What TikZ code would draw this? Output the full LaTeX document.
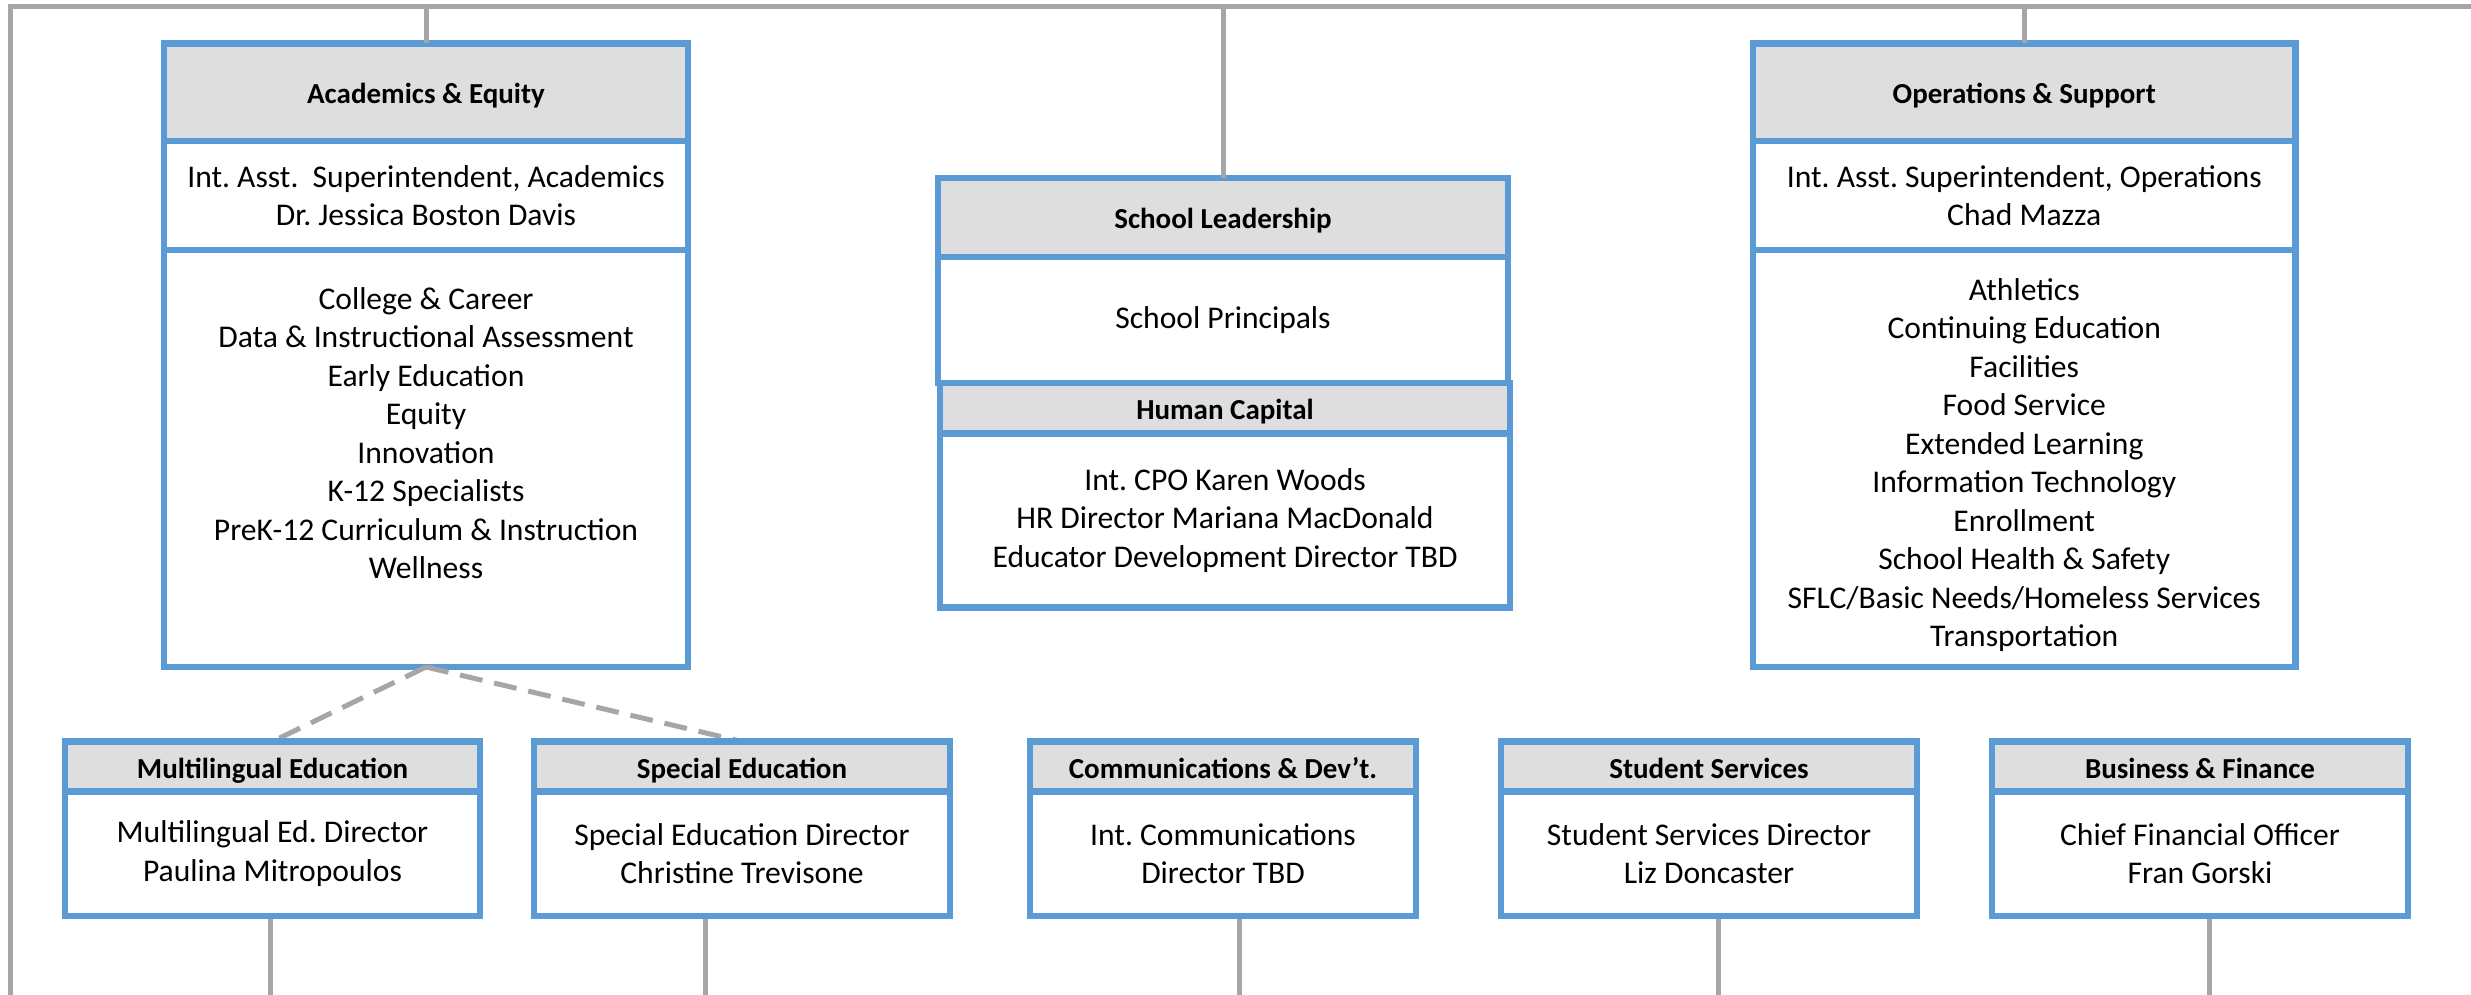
\documentclass[tikz,border=0pt]{standalone}
\usepackage{fontspec}
\setmainfont{Carlito}
\usetikzlibrary{positioning}
\definecolor{waku}{HTML}{5B9BD5}
\definecolor{midashi}{HTML}{DEDEDE}
\definecolor{sen}{HTML}{A6A6A6}
\newcommand{\hdfont}{\fontsize{29}{35}\selectfont\bfseries}
\newcommand{\bdfont}{\fontsize{31.6}{38.5}\selectfont}
\frenchspacing

\begin{document}
\begin{tikzpicture}[x=1pt,y=-1pt,
	hd/.style={draw=waku,fill=midashi,line width=6.5pt,inner sep=0pt,outer sep=0pt,anchor=north,font=\hdfont,align=center,text height=23pt,text depth=0pt},
	bd/.style={draw=waku,fill=white,line width=6.5pt,inner sep=0pt,outer sep=0pt,anchor=north,font=\bdfont,align=center},
	txt/.style={inner sep=0pt,font=\bdfont,align=center},
	link/.style={draw=sen,line width=5pt},
	dashlink/.style={draw=sen,line width=5pt,dash pattern=on 23pt off 12pt}]

		\useasboundingbox (0,0) rectangle (2471,995);

		\coordinate (topl) at (10,7); %上の線
		\coordinate (topr) at (2471,7);
		\coordinate (leftend) at (10,995);
		\draw[link] (leftend)--(topl)--(topr);

		%上の段
		\node[hd,minimum width=524pt,minimum height=97.5pt] (acadhd) at (426,43.5) {Academics \& Equity};
		\node[bd,minimum width=524pt,minimum height=109pt] (acadname) at (acadhd.south) {Int. Asst.\ \ Superintendent, Academics\\Dr. Jessica Boston Davis};
		\node[bd,minimum width=524pt,minimum height=417pt] (acadlist) at (acadname.south) {};
		\node[txt] (acadtxt) at ([yshift=25.5pt]acadlist.center) {College \& Career\\Data \& Instructional Assessment\\Early Education\\Equity\\Innovation\\K-12 Specialists\\PreK-12 Curriculum \& Instruction\\Wellness};

		\node[hd,minimum width=570pt,minimum height=79pt] (leadhd) at (1223,178) {School Leadership};
		\node[bd,minimum width=570pt,minimum height=126pt] (lead) at (leadhd.south) {School Principals};
		\node[hd,minimum width=570pt,minimum height=50.5pt] (hchd) at ([xshift=2pt]lead.south) {Human Capital};
		\node[bd,minimum width=570pt,minimum height=174pt] (hc) at (hchd.south) {Int. CPO Karen Woods\\HR Director Mariana MacDonald\\Educator Development Director TBD};

		\node[hd,minimum width=542.5pt,minimum height=97.5pt] (opshd) at (2024.25,43.5) {Operations \& Support};
		\node[bd,minimum width=542.5pt,minimum height=109pt] (opsname) at (opshd.south) {Int. Asst. Superintendent, Operations\\Chad Mazza};
		\node[bd,minimum width=542.5pt,minimum height=417pt] (opslist) at (opsname.south) {};
		\node[txt] (opstxt) at ([yshift=-6.5pt]opslist.center) {Athletics\\Continuing Education\\Facilities\\Food Service\\Extended Learning\\Information Technology\\Enrollment\\School Health \& Safety\\SFLC/Basic Needs/Homeless Services\\Transportation};

		\draw[link] (acadhd.north)--(acadhd.north |- topl);
		\draw[link] (leadhd.north)--(leadhd.north |- topl);
		\draw[link] (opshd.north)--(opshd.north |- topl);

		%下の段
		\draw[dashlink] (acadlist.south)--(272.5,741.5) coordinate (mltop);
		\draw[dashlink] (acadlist.south)--(742,741.5) coordinate (setop);

		\coordinate (mlend) at (270,995);
		\coordinate (seend) at (705,995);
		\coordinate (cdend) at (1239,995);
		\coordinate (ssend) at (1718,995);
		\coordinate (bfend) at (2209,995);
		\foreach \n in {ml,se,cd,ss,bf}
			\draw[link] (\n end)--++(0,-90);

		\node[hd,minimum width=415pt,minimum height=50pt] (mlhd) at (mltop) {Multilingual Education};
		\node[bd,minimum width=415pt,minimum height=124.5pt] (ml) at (mlhd.south) {Multilingual Ed. Director\\Paulina Mitropoulos};
		\node[hd,minimum width=416pt,minimum height=50pt] (sehd) at (setop) {Special Education};
		\node[bd,minimum width=416pt,minimum height=124.5pt] (se) at (sehd.south) {Special Education Director\\Christine Trevisone};
		\node[hd,minimum width=386pt,minimum height=50pt] (cdhd) at (1223,741.5) {Communications \& Dev’t.};
		\node[bd,minimum width=386pt,minimum height=124.5pt] (cd) at (cdhd.south) {Int. Communications\\Director TBD};
		\node[hd,minimum width=416pt,minimum height=50pt] (sshd) at (1709,741.5) {Student Services};
		\node[bd,minimum width=416pt,minimum height=124.5pt] (ss) at (sshd.south) {Student Services Director\\Liz Doncaster};
		\node[hd,minimum width=416pt,minimum height=50pt] (bfhd) at (2200,741.5) {Business \& Finance};
		\node[bd,minimum width=416pt,minimum height=124.5pt] (bf) at (bfhd.south) {Chief Financial Officer\\Fran Gorski};
	\end{tikzpicture}
\end{document}
